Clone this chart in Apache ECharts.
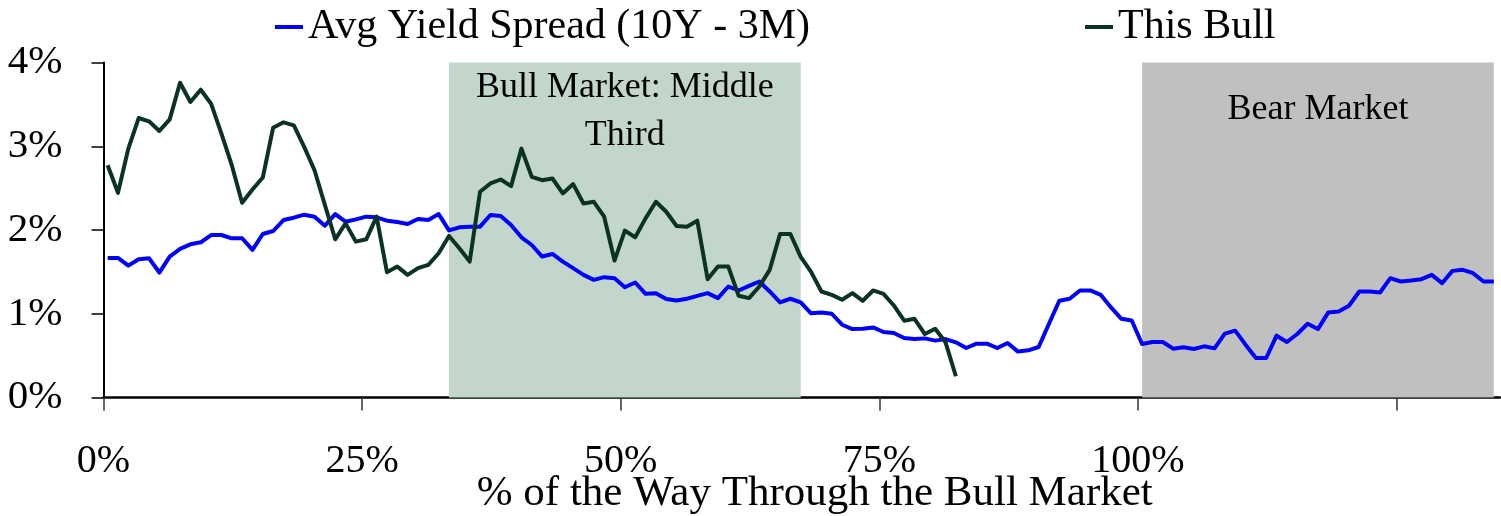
<!DOCTYPE html>
<html>
<head>
<meta charset="utf-8">
<title>Yield Spread Through the Bull Market</title>
<script src="https://cdn.jsdelivr.net/npm/echarts@6.0.0/dist/echarts.min.js"></script>
<style>
  html, body { margin: 0; padding: 0; background: #ffffff; }
  #chart { width: 1501px; height: 516px; }
</style>
</head>
<body>
<div id="chart"></div>
<script>
// Average 10Y - 3M yield spread (%), one reading per 1% of the way through the bull market
const avgSpread = [
  1.667, 1.667, 1.575, 1.651, 1.663, 1.492, 1.683, 1.774, 1.829, 1.853,
  1.940, 1.940, 1.901, 1.901, 1.762, 1.952, 1.988, 2.119, 2.147, 2.183,
  2.159, 2.052, 2.190, 2.099, 2.127, 2.159, 2.151, 2.111, 2.095, 2.071,
  2.131, 2.119, 2.190, 1.995, 2.032, 2.040, 2.040, 2.179, 2.167, 2.060,
  1.913, 1.821, 1.683, 1.714, 1.623, 1.544, 1.464, 1.405, 1.437, 1.425,
  1.317, 1.373, 1.238, 1.246, 1.175, 1.159, 1.179, 1.214, 1.246, 1.187,
  1.325, 1.278, 1.333, 1.385, 1.266, 1.135, 1.179, 1.135, 1.005, 1.016,
  1.000, 0.869, 0.817, 0.821, 0.837, 0.782, 0.770, 0.710, 0.698, 0.706,
  0.679, 0.698, 0.659, 0.591, 0.643, 0.643, 0.591, 0.651, 0.548, 0.563,
  0.603, 0.881, 1.155, 1.179, 1.278, 1.278, 1.226, 1.075, 0.940, 0.919,
  0.639, 0.663, 0.663, 0.583, 0.599, 0.579, 0.611, 0.587, 0.762, 0.798,
  0.631, 0.472, 0.472, 0.738, 0.663, 0.758, 0.881, 0.817, 1.016, 1.028,
  1.095, 1.266, 1.266, 1.254, 1.425, 1.385, 1.397, 1.413, 1.464, 1.365,
  1.512, 1.524, 1.484, 1.385, 1.385
];

// Yield spread (%) during the current bull market so far
const thisBull = [
  2.774, 2.444, 2.972, 3.337, 3.298, 3.183, 3.321, 3.758, 3.528, 3.675,
  3.508, 3.151, 2.774, 2.325, 2.484, 2.627, 3.222, 3.286, 3.250, 2.992,
  2.714, 2.300, 1.889, 2.079, 1.861, 1.889, 2.159, 1.496, 1.563, 1.464,
  1.544, 1.583, 1.722, 1.929, 1.782, 1.623, 2.456, 2.556, 2.603, 2.524,
  2.972, 2.635, 2.595, 2.615, 2.437, 2.548, 2.317, 2.337, 2.159, 1.635,
  1.992, 1.913, 2.139, 2.337, 2.218, 2.048, 2.040, 2.111, 1.413, 1.563,
  1.563, 1.214, 1.187, 1.325, 1.524, 1.952, 1.952, 1.680, 1.500, 1.266,
  1.226, 1.167, 1.246, 1.155, 1.278, 1.238, 1.099, 0.917, 0.940, 0.758,
  0.821, 0.659, 0.254
];

// Position (% of the way through) of the first reading; readings are 1% apart
const firstReading = 0.4;

// Shaded phases of the market cycle
const phaseNames = ['Bull Market: Middle\nThird', 'Bear Market'];
const phaseStart = [33.4, 100.4];
const phaseEnd = [67.4, 134.4];

// Axis ticks and labels
const xTicks = [0, 25, 50, 75, 100, 125];
const xLabels = [0, 25, 50, 75, 100];
const seriesNames = ['Avg Yield Spread (10Y - 3M)', 'This Bull'];
const xTitle = '% of the Way Through the Bull Market';

const FONT = 'Liberation Serif';
const phaseColors = ['#c2d6cb', '#c0c0c0'];
const phaseLabelGap = [1, 23];

const toPoints = arr => arr.map((v, i) => [firstReading + i, v]);

const phaseAreas = phaseNames.map((name, k) => [
  {
    xAxis: phaseStart[k],
    itemStyle: { color: phaseColors[k] },
    label: {
      show: true,
      formatter: name,
      position: 'insideTop',
      distance: phaseLabelGap[k],
      fontFamily: FONT,
      fontSize: 36,
      lineHeight: 48,
      color: '#000000'
    }
  },
  { xAxis: phaseEnd[k] }
]);

const legendBase = {
  top: 6,
  padding: 0,
  icon: 'rect',
  itemWidth: 28,
  itemHeight: 4,
  selectedMode: false,
  textStyle: { fontFamily: FONT, fontSize: 42, color: '#000000', lineHeight: 42 }
};

const chart = echarts.init(document.getElementById('chart'), null, { renderer: 'canvas' });
chart.setOption({
  animation: false,
  backgroundColor: '#ffffff',
  grid: {
    left: 103.5, right: 1, top: 62.5, bottom: 118.5,
    containLabel: false,
    outerBoundsMode: 'none'
  },
  legend: [
    Object.assign({}, legendBase, { left: 275, data: [seriesNames[0]] }),
    Object.assign({}, legendBase, { left: 1085, data: [seriesNames[1]] })
  ],
  xAxis: {
    type: 'value',
    min: 0,
    max: 135,
    interval: 25,
    name: xTitle,
    nameLocation: 'middle',
    nameGap: 75,
    nameMoveOverlap: false,
    nameTextStyle: { fontFamily: FONT, fontSize: 43, color: '#000000', padding: [0, 0, 0, 26] },
    axisLine: { show: true, onZero: false, lineStyle: { color: '#000000', width: 2.5 } },
    axisTick: { show: true, inside: false, length: 13, customValues: xTicks, lineStyle: { color: '#333333', width: 1.5 } },
    axisLabel: {
      customValues: xLabels,
      formatter: v => v + '%',
      fontFamily: FONT,
      fontSize: 40,
      color: '#000000',
      margin: 44
    },
    splitLine: { show: false }
  },
  yAxis: {
    type: 'value',
    min: 0,
    max: 4,
    interval: 1,
    axisLine: { show: true, lineStyle: { color: '#000000', width: 2 } },
    axisTick: { show: true, inside: false, length: 12, lineStyle: { color: '#000000', width: 1.5 } },
    axisLabel: {
      formatter: v => v + '%',
      fontFamily: FONT,
      fontSize: 41,
      color: '#000000',
      margin: 41
    },
    splitLine: { show: false }
  },
  series: [
    {
      name: seriesNames[0],
      type: 'line',
      data: toPoints(avgSpread),
      showSymbol: false,
      symbol: 'none',
      color: '#0000ff',
      lineStyle: { color: '#0000ff', width: 4, join: 'round' },
      z: 2,
      markArea: { silent: true, data: phaseAreas }
    },
    {
      name: seriesNames[1],
      type: 'line',
      data: toPoints(thisBull),
      showSymbol: false,
      symbol: 'none',
      color: '#0a3322',
      lineStyle: { color: '#0a3322', width: 4, join: 'round' },
      z: 3
    }
  ]
});
</script>
</body>
</html>
